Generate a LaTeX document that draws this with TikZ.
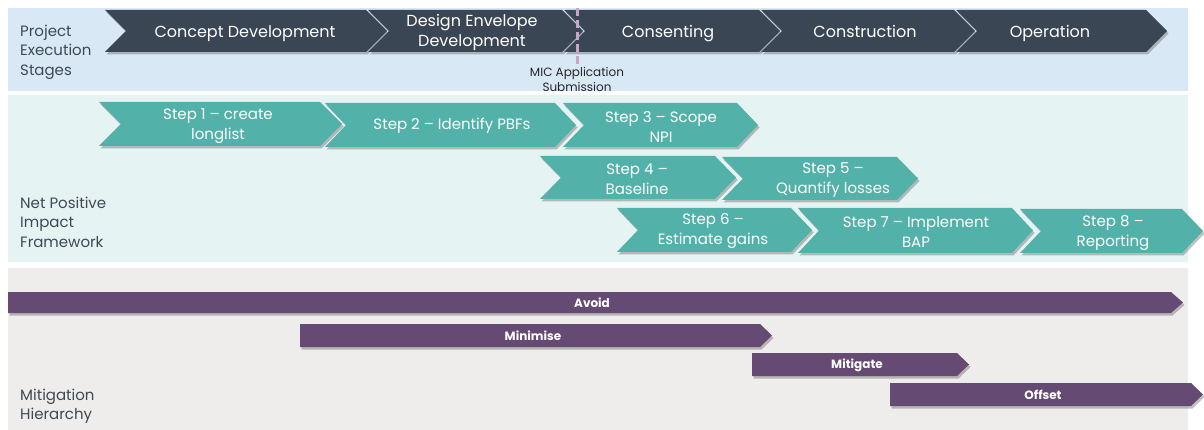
\documentclass[tikz,border=0pt]{standalone}
\usepackage{fontspec}
\setmainfont{Poppins}
\usetikzlibrary{shadows}
\definecolor{panelA}{HTML}{D8E9F5}
\definecolor{panelB}{HTML}{E6F3F3}
\definecolor{panelC}{HTML}{EEEDEB}
\definecolor{slate}{HTML}{3B4655}
\definecolor{teal}{HTML}{52B1A9}
\definecolor{plum}{HTML}{654A73}
\definecolor{mauve}{HTML}{C9A5C8}
\definecolor{labelgray}{HTML}{3F4953}
\tikzset{
  shad/.style={drop shadow={shadow xshift=1.5pt,shadow yshift=-2.5pt,opacity=.35,fill=black!70}},
  darkchev/.style={fill=slate,shad},
  tealchev/.style={fill=teal,shad},
  plumbar/.style={fill=plum,shad},
  sidelabel/.style={anchor=west,align=left,text=labelgray,font=\fontsize{15}{19.5}\selectfont,inner sep=0pt},
  stagetext/.style={text=white,align=center,font=\fontsize{16}{20}\selectfont,inner sep=0pt},
  steptext/.style={text=white,align=center,font=\fontsize{15}{19.5}\selectfont,inner sep=0pt},
  bartext/.style={text=white,font=\fontsize{12}{14}\selectfont\bfseries,inner sep=0pt},
  mictext/.style={text=black!85,align=center,font=\fontsize{12}{15}\selectfont,inner sep=0pt}
}
% #1 style, #2 left x, #3 right corner x, #4 top y, #5 bottom y, #6 depth
\newcommand{\mychev}[6]{%
  \path[#1] (#2,#4) -- (#3,#4) -- ({#3+#6},{(#4+#5)/2}) -- (#3,#5) -- (#2,#5) -- ({#2+#6},{(#4+#5)/2}) -- cycle;}
% #1 style, #2 left x, #3 right corner x, #4 top y, #5 bottom y, #6 depth
\newcommand{\mybar}[6]{%
  \path[#1] (#2,#4) -- (#3,#4) -- ({#3+#6},{(#4+#5)/2}) -- (#3,#5) -- (#2,#5) -- cycle;}
\begin{document}
\begin{tikzpicture}[x=1pt,y=-1pt]
\useasboundingbox (0,0) rectangle (1204,430);
\fill[white] (0,0) rectangle (1204,430);
% panels
\fill[panelA] (8,8) rectangle (1188,91);
\fill[panelB] (8,95) rectangle (1188,262);
\fill[panelC] (8,268) rectangle (1188,430);

% top stage chevrons
\mychev{darkchev}{105}{366}{10}{52}{21}
\mychev{darkchev}{368}{562}{10}{52}{21}
\mychev{darkchev}{564}{759}{10}{52}{21}
\mychev{darkchev}{761}{954}{10}{52}{21}
\mychev{darkchev}{956}{1146}{10}{52}{21}
\node[stagetext,anchor=base] (cd) at (245,37.3) {Concept Development};
\node[stagetext] (de) at (472,32) {Design Envelope\\Development};
\node[stagetext,anchor=base] (cons) at (668,37.3) {Consenting};
\node[stagetext,anchor=base] (constr) at (865,37.3) {Construction};
\node[stagetext,anchor=base] (op) at (1050,37.3) {Operation};

% MIC submission marker
\coordinate (mtop) at (577,8);
\coordinate (mbot) at (577,64);
\draw[mauve,line width=3pt,dash pattern=on 8pt off 4pt] (mtop) -- (mbot);
\node[mictext] (mic) at (577,79) {MIC Application\\Submission};

\node[sidelabel] (pes) at (20,52) {Project\\Execution\\Stages};

% NPI steps
\mychev{tealchev}{99}{320}{102}{146}{22}
\mychev{tealchev}{325}{555}{103}{147}{21}
\mychev{tealchev}{563}{737}{103}{147}{21}
\mychev{tealchev}{540}{715}{156}{199}{21}
\mychev{tealchev}{722}{897}{157}{200}{21}
\mychev{tealchev}{617}{791}{208}{252}{21}
\mychev{tealchev}{798}{1012}{208}{253}{21}
\mychev{tealchev}{1020}{1182}{209}{253}{21}
\node[steptext] (s1) at (218,126) {Step 1 -- create\\longlist};
\node[steptext] (s2) at (452,126) {Step 2 -- Identify PBFs};
\node[steptext] (s3) at (661,127) {Step 3 -- Scope\\NPI};
\node[steptext] (s4) at (637,179) {Step 4 --\\Baseline};
\node[steptext] (s5) at (833,180) {Step 5 --\\Quantify losses};
\node[steptext] (s6) at (713,231) {Step 6 --\\Estimate gains};
\node[steptext] (s7) at (916,232) {Step 7 -- Implement\\BAP};
\node[steptext] (s8) at (1113,233) {Step 8 --\\Reporting};

\node[sidelabel] (npi) at (20,222) {Net Positive\\Impact\\Framework};

% mitigation hierarchy bars
\mybar{plumbar}{8}{1171}{292}{313}{12}
\mybar{plumbar}{300}{760}{324}{347}{12}
\mybar{plumbar}{752}{957}{353}{376}{12}
\mybar{plumbar}{890}{1191}{383}{406}{12}
\node[bartext] (avoid) at (592,303) {Avoid};
\node[bartext] (minimise) at (533,336) {Minimise};
\node[bartext] (mitigate) at (857,365) {Mitigate};
\node[bartext] (offset) at (1043,395) {Offset};

\node[sidelabel] (mh) at (20,406) {Mitigation\\Hierarchy};
\end{tikzpicture}
\end{document}
